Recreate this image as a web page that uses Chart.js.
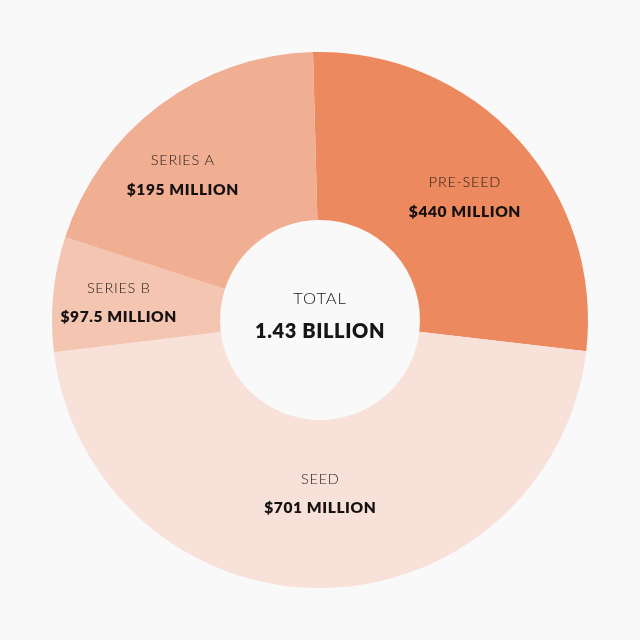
<!DOCTYPE html>
<html>
<head>
<meta charset="utf-8">
<script src="https://cdn.jsdelivr.net/npm/chart.js@4/dist/chart.umd.min.js"></script>
<style>
  html, body { margin: 0; padding: 0; background: #F9F9F9; }
  #wrap { width: 640px; height: 640px; }
</style>
</head>
<body>
<div id="wrap"><canvas id="c" width="640" height="640"></canvas></div>
<script>
// Categories and their labelled amounts
const categories = ["PRE-SEED", "SEED", "SERIES B", "SERIES A"];
const amountLabels = ["$440 MILLION", "$701 MILLION", "$97.5 MILLION", "$195 MILLION"];
// Slice sizes as drawn in the picture (degrees of arc)
const sliceSizes = [98.2, 166.4, 24.9, 70.5];
const totalTitle = "TOTAL";
const totalLabel = "1.43 BILLION";

const sliceColors = ["#EC895E", "#F8E1D9", "#F4C6B2", "#F0AE92"];

const labelPlugin = {
  id: 'sliceLabels',
  afterDatasetsDraw(chart, args, opts) {
    const ctx = chart.ctx;
    const meta = chart.getDatasetMeta(0);
    ctx.save();
    ctx.textAlign = 'center';
    ctx.textBaseline = 'middle';
    meta.data.forEach((arc, i) => {
      const p = arc.getProps(['x', 'y', 'startAngle', 'endAngle'], true);
      const a = (p.startAngle + p.endAngle) / 2 + opts.angleShift[i] * Math.PI / 180;
      const r = opts.radius[i];
      const x = p.x + r * Math.cos(a);
      const y = p.y + r * Math.sin(a);
      ctx.fillStyle = '#221a18';
      ctx.font = '300 14.5px Lato';
      ctx.letterSpacing = '0.7px';
      ctx.fillText(categories[i], x, y - 14.5);
      ctx.fillStyle = '#161111';
      ctx.font = '800 15.5px Lato';
      ctx.letterSpacing = '0.6px';
      ctx.fillText(amountLabels[i], x, y + 14.5);
    });
    const c = meta.data[0];
    ctx.fillStyle = '#161616';
    ctx.font = '300 16.5px Lato';
    ctx.letterSpacing = '0.9px';
    ctx.fillText(totalTitle, c.x, c.y - 21);
    ctx.font = '800 20px Lato';
    ctx.letterSpacing = '0.6px';
    ctx.fillText(totalLabel, c.x, c.y + 12);
    ctx.restore();
  }
};

new Chart(document.getElementById('c'), {
  type: 'doughnut',
  data: {
    labels: categories,
    datasets: [{
      data: sliceSizes,
      backgroundColor: sliceColors,
      borderWidth: 0,
      hoverOffset: 0
    }]
  },
  options: {
    responsive: false,
    animation: false,
    rotation: -1.5,
    cutout: '37.3%',
    layout: { padding: 52 },
    plugins: {
      legend: { display: false },
      tooltip: { enabled: false },
      sliceLabels: {
        angleShift: [2.1, 0, -0.7, -6.7],
        radius: [190, 174, 202, 199.5]
      }
    }
  },
  plugins: [labelPlugin]
});
</script>
</body>
</html>
